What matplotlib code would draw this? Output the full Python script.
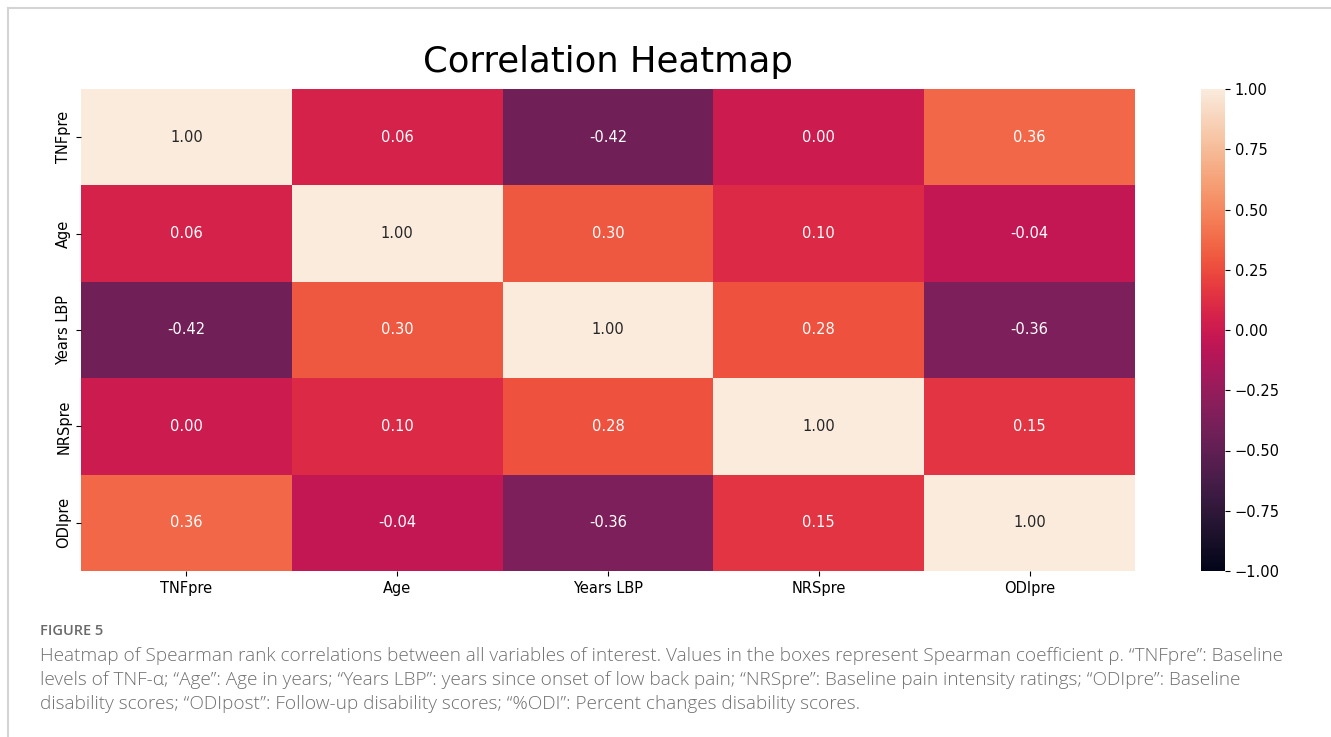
import numpy as np
import pandas as pd
import matplotlib
matplotlib.use("Agg")
import matplotlib.pyplot as plt
from matplotlib.lines import Line2D
import seaborn as sns

# Variables y coeficientes de Spearman
variables = ["TNFpre", "Age", "Years LBP", "NRSpre", "ODIpre"]
rho_tnf = [1.00, 0.06, -0.42, 0.00, 0.36]
rho_age = [0.06, 1.00, 0.30, 0.10, -0.04]
rho_lbp = [-0.42, 0.30, 1.00, 0.28, -0.36]
rho_nrs = [0.00, 0.10, 0.28, 1.00, 0.15]
rho_odi = [0.36, -0.04, -0.36, 0.15, 1.00]

cbar_ticks = [-1.00, -0.75, -0.50, -0.25, 0.00, 0.25, 0.50, 0.75, 1.00]

caption_head = "FIGURE 5"
caption_lines = [
    "Heatmap of Spearman rank correlations between all variables of interest. Values in the boxes represent Spearman coefficient \u03c1. \u201cTNFpre\u201d: Baseline",
    "levels of TNF-\u03b1; \u201cAge\u201d: Age in years; \u201cYears LBP\u201d: years since onset of low back pain; \u201cNRSpre\u201d: Baseline pain intensity ratings; \u201cODIpre\u201d: Baseline",
    "disability scores; \u201cODIpost\u201d: Follow-up disability scores; \u201c%ODI\u201d: Percent changes disability scores.",
]

plt.rcParams["font.family"] = ["DejaVu Sans"]

df = pd.DataFrame([rho_tnf, rho_age, rho_lbp, rho_nrs, rho_odi],
                  index=variables, columns=variables)

W, H = 1331, 737
fig = plt.figure(figsize=(W / 100, H / 100), dpi=100)

ax = fig.add_axes([81 / W, 1 - 571 / H, (1135 - 81) / W, (571 - 89) / H])
cax = fig.add_axes([1201 / W, 1 - 571 / H, 24 / W, (571 - 89) / H])

sns.heatmap(df, ax=ax, cbar_ax=cax, cmap="rocket", vmin=-1, vmax=1,
            annot=True, fmt=".2f", annot_kws={"size": 10.5})
ax.tick_params(labelsize=10.5)
ax.set_title("Correlation Heatmap", fontsize=25.5, pad=12)
cax.set_yticks(cbar_ticks)
cax.tick_params(labelsize=10.5)

# Marco de la página
gris = "#d4d4d4"
fig.add_artist(Line2D([8 / W, 1], [1 - 8 / H, 1 - 8 / H], color=gris, lw=1.5,
                      transform=fig.transFigure))
fig.add_artist(Line2D([8 / W, 8 / W], [0, 1 - 8 / H], color=gris, lw=1.5,
                      transform=fig.transFigure))

# Pie de figura
fam = ["Open Sans", "DejaVu Sans"]
fig.text(40 / W, 1 - 631 / H, caption_head, fontsize=10.5, color="#6a6a6a",
         family=fam, va="center", fontweight="semibold")
for i, linea in enumerate(caption_lines):
    fig.text(40 / W, 1 - (656 + 24 * i) / H, linea, fontsize=13.65,
             color="#707070", family=fam, va="center", fontweight="light")

fig.savefig("out.png", dpi=100)
